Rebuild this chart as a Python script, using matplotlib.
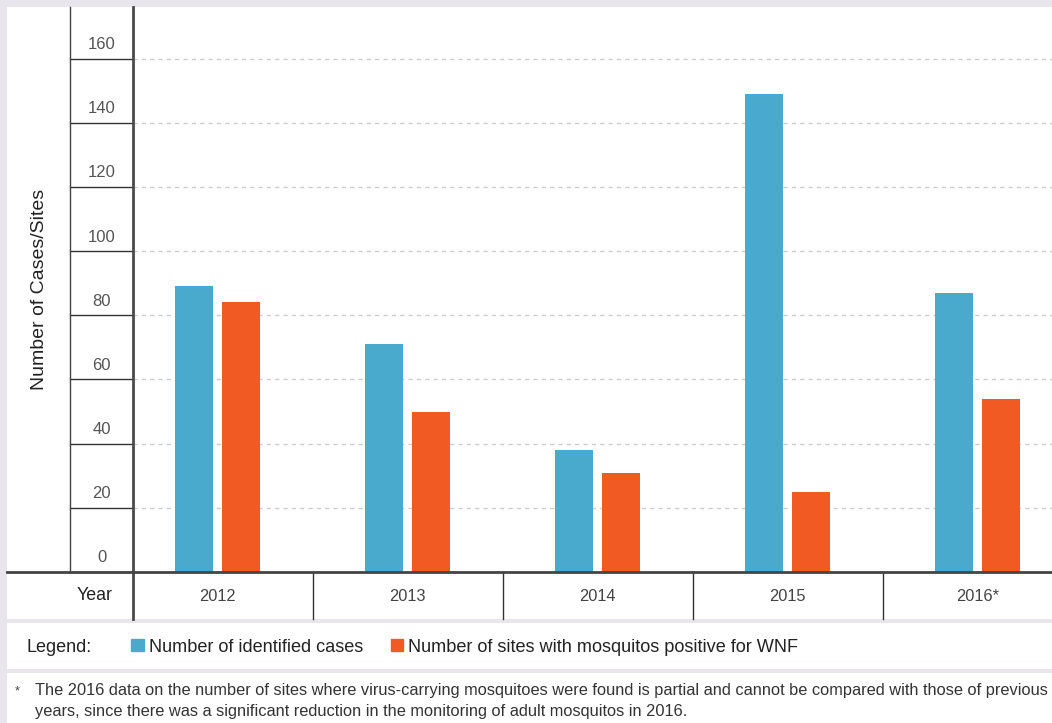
import numpy as np
import matplotlib.pyplot as plt
from matplotlib.patches import Rectangle, Patch

plt.rcParams['font.family'] = ['Liberation Sans', 'DejaVu Sans']

# data
years = ['2012', '2013', '2014', '2015', '2016*']
cases = [89, 71, 38, 149, 87]
sites = [84, 50, 31, 25, 54]
yticks = [0, 20, 40, 60, 80, 100, 120, 140, 160]
footnote = ('The 2016 data on the number of sites where virus-carrying mosquitoes were found is partial and cannot be compared with those of previous\n'
            'years, since there was a significant reduction in the monitoring of adult mosquitos in 2016.')

blue = '#4aaacd'
orange = '#f15a22'
bg = '#e9e5ec'
W, H = 1052, 723

fig = plt.figure(figsize=(W/100, H/100), dpi=100)
fig.patch.set_facecolor(bg)

def px(x0, y0, x1, y1):
    # pixel box (top-left origin) -> figure rect
    return [x0/W, 1 - y1/H, (x1-x0)/W, (y1-y0)/H]

# white panels
for (a, b, c, d) in [(7, 7, W, 619), (7, 623, W, 669), (7, 673, W, H)]:
    r = px(a, b, c, d)
    fig.patches.append(Rectangle((r[0], r[1]), r[2], r[3], transform=fig.transFigure,
                                 facecolor='white', edgecolor='none', zorder=-10))

ax_left, ax_right, ax_top, ax_bot = 133, W, 7, 572
ax = fig.add_axes(px(ax_left, ax_top, ax_right, ax_bot))
ax.set_zorder(2)
ax.patch.set_alpha(0)
unit = 190.0
xmin = (ax_left - 217.5) / unit
ax.set_xlim(xmin, xmin + (ax_right - ax_left) / unit)
ax.set_ylim(0, (ax_bot - ax_top) / 3.209)

x = np.arange(len(years))
w = 0.2
off = 0.1237
b1 = ax.bar(x - off, cases, w, color=blue, zorder=3)
b2 = ax.bar(x + off, sites, w, color=orange, zorder=3)

for s in ['top', 'right', 'bottom']:
    ax.spines[s].set_visible(False)
ax.spines['left'].set_color('#4a4a4a')
ax.spines['left'].set_linewidth(2)
ax.set_xticks([])
ax.set_yticks([])

# grid lines + tick column
ytr = ax.get_yaxis_transform()
colx = (70 - ax_left) / (ax_right - ax_left)
for t in yticks[1:]:
    ax.axhline(t, color='#cccccc', lw=1, ls=(0, (3, 3)), zorder=1)
for t in yticks:
    ax.plot([colx, 0], [t, t], transform=ytr, color='#333333', lw=1, clip_on=False)
    ax.annotate(str(t), xy=(colx / 2, t), xycoords=ytr, xytext=(0, 14), textcoords='offset pixels',
                ha='center', va='center', fontsize=12, color='#555555')
ax.plot([colx, colx], [0, 1], transform=ax.transAxes, color='#444444', lw=1, clip_on=False)

# baseline across full width
ax.plot([(7 - ax_left) / (ax_right - ax_left), 1], [0, 0], transform=ax.transAxes,
        color='#444444', lw=2, clip_on=False, zorder=4)

# year row
xtr = ax.get_xaxis_transform()
row_h = (619 - ax_bot) / (ax_bot - ax_top)
ax.plot([0, 0], [0, -row_h], transform=ax.transAxes, color='#4a4a4a', lw=2, clip_on=False)
for i, yr in enumerate(years):
    ax.text(i, -row_h * 0.52, yr, transform=xtr, ha='center', va='center', fontsize=11.8, color='#444444')
    if i < len(years) - 1:
        ax.plot([i + 0.5, i + 0.5], [0, -row_h], transform=xtr, color='#333333', lw=1, clip_on=False)
fig.text(113/W, 1 - 596/H, 'Year', ha='right', va='center', fontsize=12.8, color='#222222')

# y label
fig.text(40/W, 1 - 289/H, 'Number of Cases/Sites', rotation=90, ha='center', va='center',
         fontsize=14, color='#222222')

# legend
fig.text(27/W, 1 - 647/H, 'Legend:', ha='left', va='center', fontsize=13, color='#222222')
fig.legend([Patch(color=blue), Patch(color=orange)],
           ['Number of identified cases', 'Number of sites with mosquitos positive for WNF'],
           loc='center left', bbox_to_anchor=(115/W, 1 - 647/H), ncol=2, frameon=False,
           fontsize=13.05, handlelength=0.68, handleheight=0.68, handletextpad=0.3,
           columnspacing=1.5, labelcolor='#222222')

# footnote
fig.text(15/W, 1 - 691/H, '*', ha='left', va='center', fontsize=9, color='#444444')
fig.text(35/W, 1 - 701/H, footnote, ha='left', va='center', fontsize=11.8,
         color='#333333', linespacing=1.45)

fig.savefig('out.png', dpi=100, facecolor=fig.get_facecolor())
